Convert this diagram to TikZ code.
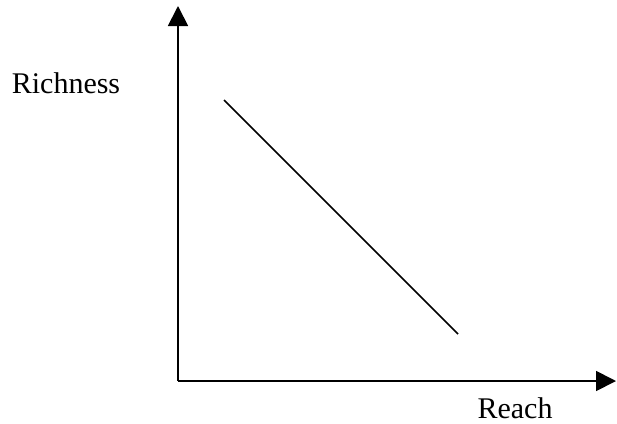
\documentclass[tikz,border=0pt]{standalone}
\usepackage{fontspec}
\setmainfont{Liberation Serif}
\usetikzlibrary{arrows.meta,positioning}

\begin{document}
\begin{tikzpicture}[x=1pt, y=-1pt,
      axis/.style={-{Triangle[length=20pt, width=20pt]}, line width=1.8pt},
      trend/.style={line width=1.6pt},
      lbl/.style={font=\fontsize{30}{36}\selectfont, inner sep=0pt, anchor=base}
  ]
    \useasboundingbox (0,0) rectangle (617,423);
    \coordinate (o) at (178,381);
    \coordinate (ytop) at (178,6);
    \coordinate (xend) at (616,381);
    \coordinate (hi) at (224,100);
    \coordinate (lo) at (458,334);
    \draw[axis] (o)--(ytop);
    \draw[axis] (o)--(xend);
    \draw[trend] (hi)--(lo);
    \node[lbl] (rich) at (66,93) {Richness};
    \node[lbl] (reach) at (515,418) {Reach};
  \end{tikzpicture}
\end{document}
